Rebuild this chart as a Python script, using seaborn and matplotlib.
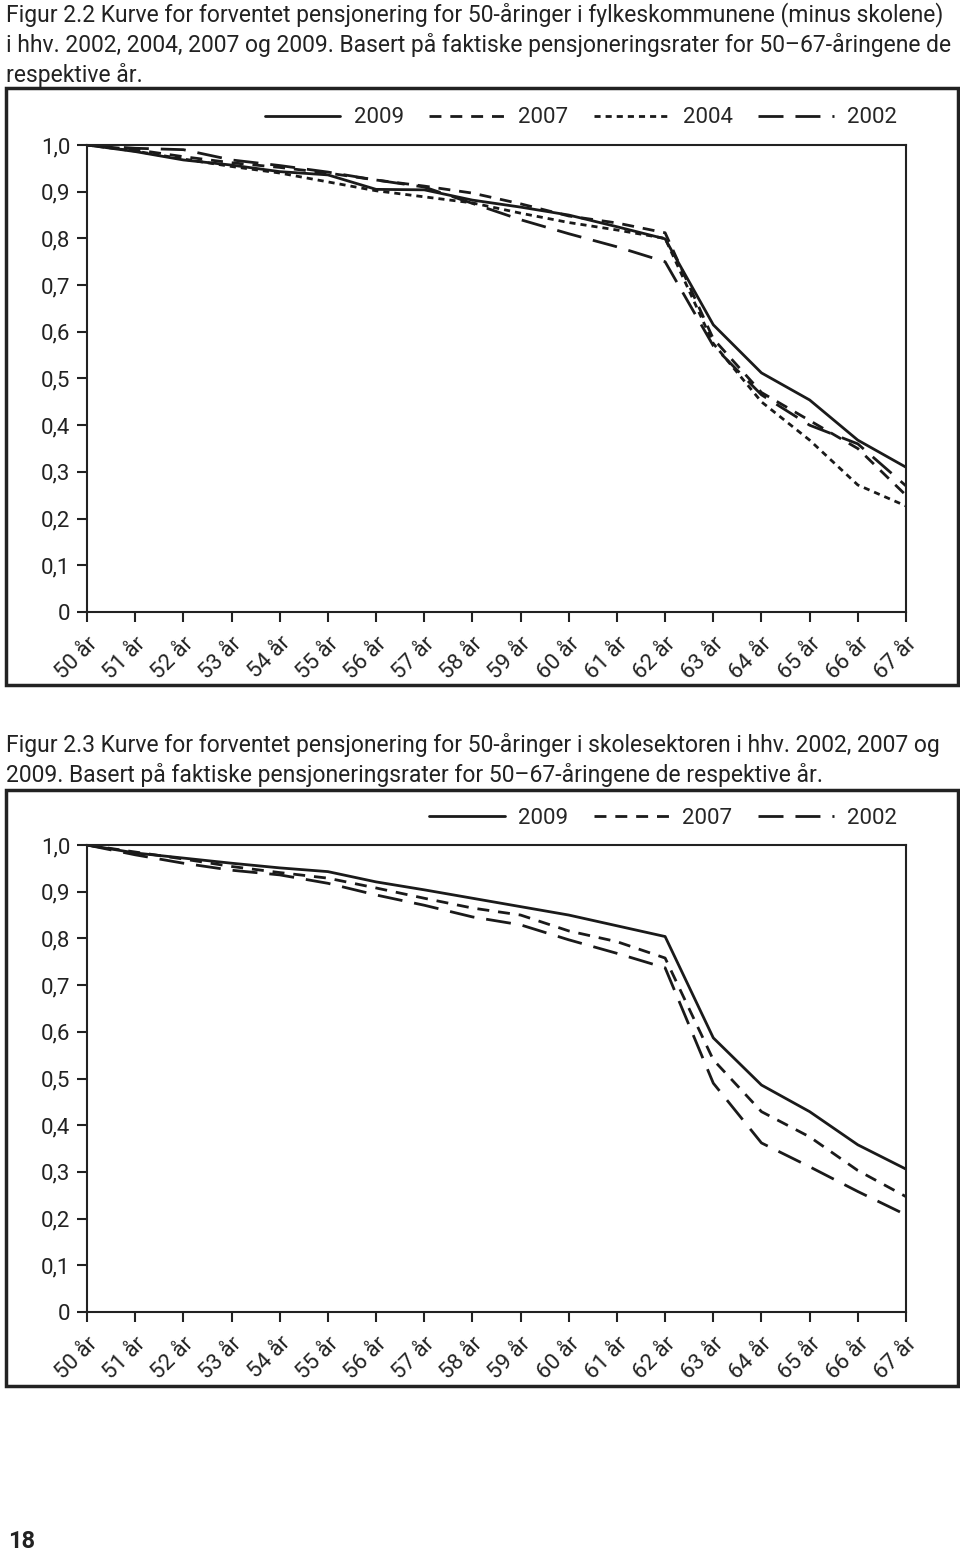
import matplotlib
matplotlib.use("Agg")
import matplotlib.pyplot as plt
from matplotlib.lines import Line2D
from matplotlib.patches import Rectangle
import pandas as pd
import seaborn as sns

sns.set_theme(style="ticks")
plt.rcParams['font.family'] = ['Roboto', 'DejaVu Sans']

# data
ages = [f"{a} år" for a in range(50, 68)]
y_ticks = [0, 0.1, 0.2, 0.3, 0.4, 0.5, 0.6, 0.7, 0.8, 0.9, 1.0]
y_labels = ["0", "0,1", "0,2", "0,3", "0,4", "0,5", "0,6", "0,7", "0,8", "0,9", "1,0"]

# Figur 2.2 - fylkeskommunene (minus skolene)
fk_2009 = [1.0, 0.986, 0.968, 0.957, 0.943, 0.936, 0.905, 0.904, 0.882, 0.867,
           0.850, 0.825, 0.799, 0.615, 0.512, 0.454, 0.368, 0.310]
fk_2007 = [1.0, 0.990, 0.975, 0.962, 0.952, 0.940, 0.925, 0.912, 0.897, 0.874,
           0.848, 0.833, 0.812, 0.585, 0.470, 0.410, 0.350, 0.250]
fk_2004 = [1.0, 0.987, 0.970, 0.954, 0.940, 0.921, 0.902, 0.889, 0.876, 0.854,
           0.834, 0.818, 0.800, 0.575, 0.450, 0.368, 0.272, 0.227]
fk_2002 = [1.0, 0.993, 0.990, 0.968, 0.956, 0.942, 0.925, 0.910, 0.875, 0.840,
           0.810, 0.782, 0.750, 0.570, 0.465, 0.400, 0.360, 0.270]

# Figur 2.3 - skolesektoren
sk_2009 = [1.0, 0.983, 0.972, 0.961, 0.951, 0.943, 0.921, 0.904, 0.886, 0.868,
           0.850, 0.827, 0.804, 0.587, 0.486, 0.429, 0.358, 0.306]
sk_2007 = [1.0, 0.985, 0.970, 0.954, 0.941, 0.929, 0.908, 0.886, 0.865, 0.850,
           0.816, 0.793, 0.758, 0.540, 0.429, 0.375, 0.303, 0.247]
sk_2002 = [1.0, 0.979, 0.961, 0.946, 0.936, 0.918, 0.893, 0.871, 0.846, 0.829,
           0.797, 0.768, 0.737, 0.490, 0.362, 0.311, 0.258, 0.208]

caption_1 = ["Figur 2.2 Kurve for forventet pensjonering for 50-åringer i fylkeskommunene (minus skolene)",
             "i hhv. 2002, 2004, 2007 og 2009. Basert på faktiske pensjoneringsrater for 50–67-åringene de",
             "respektive år."]
caption_2 = ["Figur 2.3 Kurve for forventet pensjonering for 50-åringer i skolesektoren i hhv. 2002, 2007 og",
             "2009. Basert på faktiske pensjoneringsrater for 50–67-åringene de respektive år."]

DASHES = {"2009": "", "2007": (4.3, 3.2), "2004": (2.2, 1.8), "2002": (9.0, 4.3)}
LW = 2.0
FS = 16

W, H = 960, 1552
fig = plt.figure(figsize=(W / 100, H / 100), dpi=100)


def fy(py):
    return 1 - py / H


def draw_panel(top_px, series, legend_x_px):
    ax = fig.add_axes([87 / W, fy(top_px + 467), 819 / W, 467 / H])
    df = pd.DataFrame({"pos": list(range(len(ages))) * len(series),
                       "value": [v for vals in series.values() for v in vals],
                       "year": [y for y, vals in series.items() for _ in vals]})
    order = list(series.keys())
    sns.lineplot(data=df, x="pos", y="value", style="year", style_order=order,
                 dashes={k: DASHES[k] for k in order}, color="#1a1a1a",
                 linewidth=LW, legend=False, ax=ax)
    ax.set_xlim(0, len(ages) - 1)
    ax.set_ylim(0, 1)
    ax.set_xticks(range(len(ages)))
    ax.set_xticklabels(ages, rotation=45, ha="right", va="top",
                       rotation_mode="anchor", fontsize=FS)
    ax.set_yticks(y_ticks)
    ax.set_yticklabels(y_labels, fontsize=FS)
    ax.set_xlabel("")
    ax.set_ylabel("")
    ax.tick_params(axis="both", direction="out", length=7, width=1.5,
                   color="#222222", labelcolor="#222222")
    ax.tick_params(axis="x", pad=8)
    ax.tick_params(axis="y", pad=5)
    for s in ax.spines.values():
        s.set_linewidth(1.5)
        s.set_color("#222222")
    ax.patch.set_alpha(0)

    handles = [Line2D([], [], color="#1a1a1a", lw=LW,
                      linestyle="-" if DASHES[k] == "" else (0, DASHES[k]))
               for k in order]
    ax.legend(handles, order, ncol=len(order), loc="center right",
              bbox_to_anchor=((legend_x_px - 87) / 819, 1 + 27 / 467),
              frameon=False, fontsize=FS, handlelength=3.4,
              handletextpad=0.6, columnspacing=1.15, borderpad=0,
              borderaxespad=0)
    return ax


# captions
for i, line in enumerate(caption_1):
    fig.text(6 / W, fy(15 + 30 * i), line, fontsize=16.5, va="center",
             ha="left", color="#222222")
for i, line in enumerate(caption_2):
    fig.text(6 / W, fy(745 + 30 * i), line, fontsize=16.5, va="center",
             ha="left", color="#222222")

# frames around the charts
fig.patches.append(Rectangle((6 / W, fy(685)), 952 / W, 597 / H, fill=False,
                             lw=2.5, edgecolor="#222222",
                             transform=fig.transFigure, figure=fig))
fig.patches.append(Rectangle((6 / W, fy(1386)), 952 / W, 596 / H, fill=False,
                             lw=2.5, edgecolor="#222222",
                             transform=fig.transFigure, figure=fig))

draw_panel(145, {"2009": fk_2009, "2007": fk_2007, "2004": fk_2004,
                 "2002": fk_2002}, 897)
draw_panel(845, {"2009": sk_2009, "2007": sk_2007, "2002": sk_2002}, 897)

# page number
fig.text(8 / W, fy(1541), "18", fontsize=17, fontweight="bold", va="center",
         ha="left", color="#222222")

fig.savefig("out.png", dpi=100)
